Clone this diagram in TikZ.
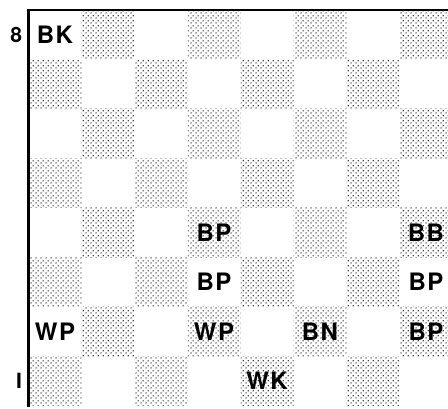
\documentclass[tikz,border=0pt]{standalone}
\usepackage{fontspec}
\setmainfont[LetterSpace=6]{TeX Gyre Heros}
\usetikzlibrary{patterns,positioning}
\pgfdeclarepatternformonly{stipple}{\pgfpointorigin}{\pgfqpoint{5pt}{5pt}}{\pgfqpoint{5pt}{5pt}}{
  \pgfpathcircle{\pgfqpoint{1.2pt}{1.2pt}}{0.85pt}
  \pgfpathcircle{\pgfqpoint{3.7pt}{3.7pt}}{0.85pt}
  \pgfusepath{fill}}

\begin{document}
\begin{tikzpicture}[x=53pt,y=49.5pt,
  sq/.style={minimum width=53pt,minimum height=49.5pt,inner sep=0pt,outer sep=0pt},
  dark/.style={pattern=stipple,pattern color=black},
  piece/.style={font=\fontsize{24}{24}\selectfont\bfseries},
  rank/.style={font=\fontsize{21}{21}\selectfont\bfseries},
  edge/.style={line width=2.8pt,line cap=rect}]
\useasboundingbox (-28.5pt,-3pt) rectangle (419.5pt,406pt);
\clip (-28.5pt,-3pt) rectangle (419.5pt,406pt);
% squares of the board
\foreach \c in {1,...,8}
  \foreach \r in {1,...,8}{
    \pgfmathtruncatemacro\odd{mod(\c+\r,2)}
    \ifnum\odd=0
      \node[sq,dark] (sq-\c-\r) at (\c-0.5,\r-0.5) {};
    \else
      \node[sq] (sq-\c-\r) at (\c-0.5,\r-0.5) {};
    \fi
  }
% pieces
\foreach \c/\r/\p in {1/8/BK,4/4/BP,8/4/BB,4/3/BP,8/3/BP,1/2/WP,4/2/WP,6/2/BN,8/2/BP,5/1/WK}
  \node[piece] (pc-\c-\r) at (sq-\c-\r) {\p};
% rank numbers
\node[rank,left=3pt of sq-1-8.west] (rk8) {8};
\node[rank,left=3pt of sq-1-1.west] (rk1) {I};
% board edges
\draw[edge] (sq-1-1.south west) -- (sq-1-8.north west) -- (sq-8-8.north east);
\end{tikzpicture}
\end{document}
